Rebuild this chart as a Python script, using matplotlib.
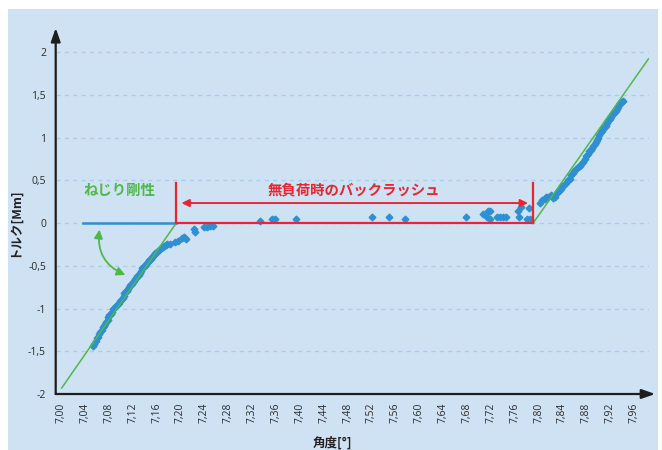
import matplotlib
matplotlib.use("Agg")
import matplotlib.pyplot as plt
from matplotlib.patches import FancyArrowPatch, Rectangle
from matplotlib.ticker import FuncFormatter

# Measured torque vs. angle: loaded flank (negative), backlash band, loaded flank (positive)
neg_angle = [7.054, 7.056, 7.058, 7.060, 7.062, 7.064, 7.066, 7.068, 7.070, 7.072,
             7.074, 7.076, 7.078, 7.079, 7.081, 7.083, 7.085, 7.087, 7.089, 7.091,
             7.093, 7.095, 7.097, 7.099, 7.101, 7.103, 7.105, 7.106, 7.108, 7.110,
             7.112, 7.114, 7.116, 7.118, 7.120, 7.122, 7.124, 7.126, 7.128, 7.130,
             7.132, 7.134, 7.136, 7.138, 7.140, 7.142, 7.144, 7.146, 7.148, 7.150,
             7.152, 7.154, 7.156, 7.158, 7.160, 7.162, 7.164, 7.166, 7.168, 7.170,
             7.172, 7.175, 7.178, 7.182, 7.191, 7.196, 7.202, 7.206, 7.209, 7.223,
             7.224, 7.239, 7.244, 7.249, 7.255]
neg_torque = [-1.44, -1.42, -1.38, -1.35, -1.33, -1.30, -1.28, -1.25, -1.22, -1.20,
              -1.18, -1.16, -1.13, -1.10, -1.08, -1.06, -1.04, -1.01, -0.99, -0.98,
              -0.96, -0.95, -0.93, -0.91, -0.90, -0.88, -0.85, -0.82, -0.80, -0.79,
              -0.77, -0.75, -0.73, -0.71, -0.69, -0.68, -0.66, -0.64, -0.62, -0.61,
              -0.59, -0.56, -0.53, -0.52, -0.50, -0.48, -0.47, -0.45, -0.43, -0.42,
              -0.40, -0.38, -0.37, -0.35, -0.34, -0.33, -0.31, -0.30, -0.29, -0.28,
              -0.27, -0.26, -0.25, -0.25, -0.226, -0.207, -0.176, -0.16, -0.187, -0.07,
              -0.109, -0.05, -0.043, -0.031, -0.031]

mid_angle = [7.334, 7.353, 7.358, 7.394, 7.521, 7.549, 7.577, 7.679, 7.707, 7.713,
             7.715, 7.718, 7.718, 7.731, 7.736, 7.741, 7.746, 7.765, 7.768, 7.771,
             7.780, 7.784, 7.785]
mid_torque = [0.027, 0.047, 0.047, 0.047, 0.074, 0.074, 0.047, 0.074, 0.105, 0.067,
              0.144, 0.144, 0.047, 0.067, 0.067, 0.067, 0.067, 0.144, 0.067, 0.184,
              0.047, 0.172, 0.047]

pos_angle = [7.802, 7.806, 7.810, 7.813, 7.816, 7.821, 7.825, 7.828, 7.831, 7.834,
             7.837, 7.840, 7.843, 7.846, 7.849, 7.852, 7.855, 7.857, 7.860, 7.863,
             7.866, 7.869, 7.872, 7.875, 7.877, 7.880, 7.882, 7.885, 7.887, 7.890,
             7.892, 7.894, 7.896, 7.898, 7.900, 7.902, 7.904, 7.906, 7.908, 7.910,
             7.913, 7.915, 7.917, 7.919, 7.921, 7.924, 7.927, 7.929, 7.931, 7.933,
             7.935, 7.937, 7.939, 7.941]
pos_torque = [0.24, 0.27, 0.28, 0.31, 0.30, 0.33, 0.29, 0.31, 0.35, 0.38,
              0.40, 0.43, 0.45, 0.47, 0.50, 0.52, 0.56, 0.59, 0.61, 0.63,
              0.65, 0.67, 0.70, 0.72, 0.75, 0.78, 0.81, 0.84, 0.86, 0.88,
              0.90, 0.92, 0.95, 0.97, 1.00, 1.03, 1.06, 1.08, 1.10, 1.12,
              1.14, 1.17, 1.20, 1.22, 1.24, 1.27, 1.29, 1.31, 1.34, 1.36,
              1.38, 1.40, 1.42, 1.43]

# Stiffness fit lines and the zero-torque segment
fit_neg_x = [7.001, 7.193]
fit_neg_y = [-1.93, 0.0]
fit_pos_x = [7.791, 7.984]
fit_pos_y = [0.0, 1.92]
zero_x = [7.037, 7.193]
backlash_x = [7.193, 7.791]

x_ticks = [7.00 + 0.04 * i for i in range(25)]
y_ticks = [-2, -1.5, -1, -0.5, 0, 0.5, 1, 1.5, 2]

BLUE = "#2f8fd2"
GREEN = "#4fb848"
RED = "#e8262e"
PANEL = "#cfe2f3"
GRID = "#a9cdee"
AXIS = "#1e1e1e"

JP = ["Noto Sans CJK JP", "DejaVu Sans"]
NUM = ["Open Sans", "DejaVu Sans"]

fig = plt.figure(figsize=(6.62, 4.5), dpi=100)
fig.add_artist(Rectangle((8 / 662, 0), 650 / 662, 441 / 450,
                         transform=fig.transFigure, facecolor=PANEL,
                         edgecolor="none", zorder=-10))
ax = fig.add_axes([55.7 / 662, 56 / 450, 593.3 / 662, 359 / 450])
ax.set_facecolor("none")

ax.set_xlim(6.991, 7.985)
ax.set_ylim(-2, 2.2)
for s in ax.spines.values():
    s.set_visible(False)

for yv in y_ticks[1:]:
    ax.axhline(yv, color=GRID, lw=1, ls=(0, (3, 3)), zorder=1)

# axis lines with arrowheads
ax.annotate("", xy=(1.0105, 0), xytext=(0, 0), xycoords="axes fraction",
            arrowprops=dict(arrowstyle="-|>,head_length=0.8,head_width=0.28",
                            color=AXIS, lw=1.6, shrinkA=0, shrinkB=0),
            annotation_clip=False)
ax.annotate("", xy=(0, 1.0195), xytext=(0, 0), xycoords="axes fraction",
            arrowprops=dict(arrowstyle="-|>,head_length=0.8,head_width=0.28",
                            color=AXIS, lw=1.6, shrinkA=0, shrinkB=0),
            annotation_clip=False)

ax.plot(zero_x, [0, 0], color=BLUE, lw=1.8, zorder=3)
ax.plot(fit_neg_x, fit_neg_y, color=GREEN, lw=1.1, zorder=4)
ax.plot(fit_pos_x, fit_pos_y, color=GREEN, lw=1.1, zorder=4)

for xs, ys in [(neg_angle, neg_torque), (mid_angle, mid_torque), (pos_angle, pos_torque)]:
    ax.plot(xs, ys, ls="none", marker="D", ms=3.4, color=BLUE, mec=BLUE, zorder=3)

# backlash bracket
ax.plot(backlash_x, [0, 0], color=RED, lw=1.6, zorder=5)
ax.plot([backlash_x[0]] * 2, [0, 0.47], color=RED, lw=1.6, zorder=5)
ax.plot([backlash_x[1]] * 2, [0, 0.47], color=RED, lw=1.6, zorder=5)
ax.add_patch(FancyArrowPatch((backlash_x[0] + 0.004, 0.234), (backlash_x[1] - 0.004, 0.234),
                             arrowstyle="<|-|>,head_length=0.45,head_width=0.22",
                             mutation_scale=10, color=RED, lw=1.4, zorder=5))
ax.text(7.490, 0.385, "無負荷時のバックラッシュ", color=RED, fontsize=10.4,
        fontweight="bold", family=JP, ha="center", va="center", zorder=6)

# stiffness label with curved pointer
ax.text(7.097, 0.38, "ねじり剛性", color=GREEN, fontsize=10.4,
        fontweight="bold", family=JP, ha="center", va="center", zorder=6)
ax.add_patch(FancyArrowPatch((7.065, -0.045), (7.112, -0.62),
                             connectionstyle="arc3,rad=0.4",
                             arrowstyle="<|-|>,head_length=0.5,head_width=0.25",
                             mutation_scale=10, color=GREEN, lw=1.3, zorder=6))

ax.set_xticks(x_ticks)
ax.set_yticks(y_ticks)
ax.xaxis.set_major_formatter(FuncFormatter(lambda v, p: f"{v:.2f}".replace(".", ",")))
ax.yaxis.set_major_formatter(FuncFormatter(lambda v, p: f"{v:g}".replace(".", ",")))
ax.tick_params(axis="both", length=0, labelsize=7.5, labelcolor="#2b2b2b")
ax.tick_params(axis="x", pad=6, labelrotation=90)
ax.tick_params(axis="y", pad=7)
for lbl in ax.get_xticklabels() + ax.get_yticklabels():
    lbl.set_family(NUM)

ax.set_xlabel("角度[°]", family=JP, fontsize=9, fontweight="bold", color="#222222")
ax.set_ylabel("トルク[Mm]", family=JP, fontsize=9, fontweight="bold", color="#222222")
ax.xaxis.set_label_coords(0.467, -0.118)
ax.yaxis.set_label_coords(-0.058, 0.479)

fig.savefig("out.png", dpi=100)
